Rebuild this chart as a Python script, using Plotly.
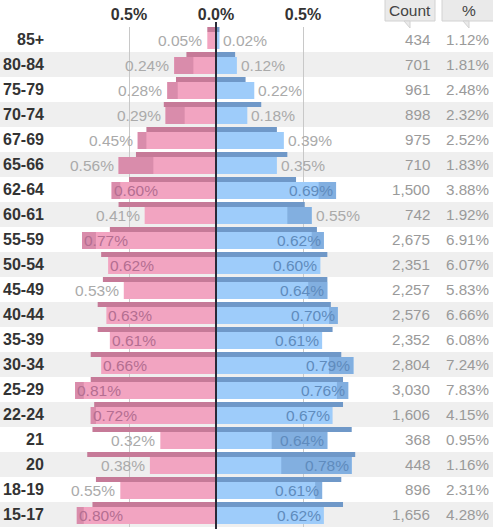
import plotly.graph_objects as go

# ---------------- data ----------------
ages = ["85+", "80-84", "75-79", "70-74", "67-69", "65-66", "62-64", "60-61", "55-59", "50-54",
        "45-49", "40-44", "35-39", "30-34", "25-29", "22-24", "21", "20", "18-19", "15-17"]
female = [0.05, 0.24, 0.28, 0.29, 0.45, 0.56, 0.60, 0.41, 0.77, 0.62,
          0.53, 0.63, 0.61, 0.66, 0.81, 0.72, 0.32, 0.38, 0.55, 0.80]
male = [0.02, 0.12, 0.22, 0.18, 0.39, 0.35, 0.69, 0.55, 0.62, 0.60,
        0.64, 0.70, 0.61, 0.79, 0.76, 0.67, 0.64, 0.78, 0.61, 0.62]
# comparison (thin bars at top of each row)
female_ref = [0.05, 0.17, 0.23, 0.30, 0.40, 0.46, 0.50, 0.56, 0.61, 0.66,
              0.65, 0.68, 0.68, 0.72, 0.72, 0.70, 0.71, 0.74, 0.69, 0.71]
male_ref = [0.02, 0.11, 0.17, 0.26, 0.35, 0.41, 0.46, 0.51, 0.58, 0.64,
            0.64, 0.66, 0.67, 0.72, 0.73, 0.73, 0.78, 0.80, 0.72, 0.73]
# lower end of the darker (uncertain) part of each bar
female_low = [None, 0.13, 0.22, 0.18, 0.40, 0.36, 0.55, None, 0.69, None,
              None, None, None, None, 0.76, 0.69, None, None, None, 0.76]
male_low = [None, None, None, None, None, None, 0.59, 0.41, 0.55, None,
            0.53, 0.65, None, 0.65, 0.695, None, 0.32, 0.375, 0.57, None]
counts = ["434", "701", "961", "898", "975", "710", "1,500", "742", "2,675", "2,351",
          "2,257", "2,576", "2,352", "2,804", "3,030", "1,606", "368", "448", "896", "1,656"]
shares = ["1.12%", "1.81%", "2.48%", "2.32%", "2.52%", "1.83%", "3.88%", "1.92%", "6.91%", "6.07%",
          "5.83%", "6.66%", "6.08%", "7.24%", "7.83%", "4.15%", "0.95%", "1.16%", "2.31%", "4.28%"]
tick_vals = [-0.5, 0.0, 0.5]
tick_text = ["0.5%", "0.0%", "0.5%"]

# ---------------- style ----------------
W, H = 493, 529
FONT = "Liberation Sans, Arial, sans-serif"
PINK, PINK_MID, PINK_DARK = "#F2A4C1", "#D98CAB", "#C67A98"
BLUE, BLUE_MID, BLUE_DARK = "#9ECCFA", "#82AFE0", "#6F98C8"
PINK_TXT, BLUE_TXT, GRAY_TXT = "#B46E91", "#5F8BBD", "#AAAAAA"

idx = list(range(len(ages)))
fig = go.Figure()

MAIN_W, MAIN_OFF = 0.68, -0.30
REF_W, REF_OFF = 0.20, -0.50

# main bars
fig.add_trace(go.Bar(y=idx, x=[-v for v in female], orientation="h", width=MAIN_W, offset=MAIN_OFF,
                     marker=dict(color=PINK, line=dict(width=0)), hoverinfo="skip"))
fig.add_trace(go.Bar(y=idx, x=male, orientation="h", width=MAIN_W, offset=MAIN_OFF,
                     marker=dict(color=BLUE, line=dict(width=0)), hoverinfo="skip"))
# darker segments
fy, fx, fb = [], [], []
for i, (v, lo) in enumerate(zip(female, female_low)):
    if lo is not None:
        fy.append(i); fb.append(-lo); fx.append(-(v - lo))
fig.add_trace(go.Bar(y=fy, x=fx, base=fb, orientation="h", width=MAIN_W, offset=MAIN_OFF,
                     marker=dict(color=PINK_MID, line=dict(width=0)), hoverinfo="skip"))
my, mx, mb = [], [], []
for i, (v, lo) in enumerate(zip(male, male_low)):
    if lo is not None:
        my.append(i); mb.append(lo); mx.append(v - lo)
fig.add_trace(go.Bar(y=my, x=mx, base=mb, orientation="h", width=MAIN_W, offset=MAIN_OFF,
                     marker=dict(color=BLUE_MID, line=dict(width=0)), hoverinfo="skip"))
# thin comparison bars
fig.add_trace(go.Bar(y=idx, x=[-v for v in female_ref], orientation="h", width=REF_W, offset=REF_OFF,
                     marker=dict(color=PINK_DARK, line=dict(width=0)), hoverinfo="skip"))
fig.add_trace(go.Bar(y=idx, x=male_ref, orientation="h", width=REF_W, offset=REF_OFF,
                     marker=dict(color=BLUE_DARK, line=dict(width=0)), hoverinfo="skip"))

shapes = []
# zebra stripes
for i in idx:
    if i % 2 == 1:
        shapes.append(dict(type="rect", xref="paper", yref="y", x0=0, x1=1, y0=i - 0.5, y1=i + 0.5,
                           fillcolor="#EFEFEF", line=dict(width=0), layer="below"))
# zero line above bars
shapes.append(dict(type="line", xref="x", yref="paper", x0=0, x1=0, y0=0, y1=1 - 22 / H,
                   line=dict(color="#2A2A38", width=2), layer="above"))
# header boxes
def box(x0, x1):
    shapes.append(dict(type="rect", xref="paper", yref="paper", x0=x0 / W, x1=x1 / W,
                       y0=1 - 21 / H, y1=1 + 2 / H, fillcolor="#EAEAEA",
                       line=dict(color="#D2D2D2", width=1), layer="above"))
    cx = (x0 + x1) / 2
    shapes.append(dict(type="path", xref="paper", yref="paper",
                       path=f"M {(cx - 6) / W},{1 - 21 / H} L {cx / W},{1 - 28 / H} L {cx / W},{1 - 21 / H} Z",
                       fillcolor="#EAEAEA", line=dict(color="#D2D2D2", width=1), layer="above"))
box(385, 435)
box(442, 496)

ann = []
ann.append(dict(text="Count", xref="paper", yref="paper", x=410 / W, y=1 - 11 / H, showarrow=False,
                font=dict(family=FONT, size=15.5, color="#444"), xanchor="center", yanchor="middle"))
ann.append(dict(text="%", xref="paper", yref="paper", x=469 / W, y=1 - 11 / H, showarrow=False,
                font=dict(family=FONT, size=15.5, color="#444"), xanchor="center", yanchor="middle"))

LBL = 15.5
INSIDE = 0.58
for i in idx:
    ann.append(dict(text=f"<b>{ages[i]}</b>", xref="paper", yref="y", x=46 / W, y=i, showarrow=False,
                    xanchor="right", yanchor="middle", font=dict(family=FONT, size=16, color="#333")))
    ann.append(dict(text=counts[i], xref="paper", yref="y", x=432 / W, y=i, showarrow=False,
                    xanchor="right", yanchor="middle", font=dict(family=FONT, size=15.2, color="#9A9A9A")))
    ann.append(dict(text=shares[i], xref="paper", yref="y", x=491 / W, y=i, showarrow=False,
                    xanchor="right", yanchor="middle", font=dict(family=FONT, size=15.2, color="#9A9A9A")))
    f = female[i]
    if f >= INSIDE:
        ann.append(dict(text=f"{f:.2f}%", xref="x", yref="y", x=-f, y=i, yshift=-1, showarrow=False,
                        xanchor="left", xshift=0, yanchor="middle",
                        font=dict(family=FONT, size=LBL, color=PINK_TXT)))
    else:
        ann.append(dict(text=f"{f:.2f}%", xref="x", yref="y", x=-f, y=i, yshift=-1, showarrow=False,
                        xanchor="right", xshift=-3, yanchor="middle",
                        font=dict(family=FONT, size=LBL, color=GRAY_TXT)))
    m = male[i]
    if m >= INSIDE:
        ann.append(dict(text=f"{m:.2f}%", xref="x", yref="y", x=m, y=i, yshift=-1, showarrow=False,
                        xanchor="right", xshift=-1, yanchor="middle",
                        font=dict(family=FONT, size=LBL, color=BLUE_TXT)))
    else:
        ann.append(dict(text=f"{m:.2f}%", xref="x", yref="y", x=m, y=i, yshift=-1, showarrow=False,
                        xanchor="left", xshift=2, yanchor="middle",
                        font=dict(family=FONT, size=LBL, color=GRAY_TXT)))

PX = 174.0
x_min, x_max = -0.9, 0.95
fig.update_layout(
    width=W, height=H, margin=dict(l=0, r=0, t=0, b=0),
    paper_bgcolor="white", plot_bgcolor="rgba(0,0,0,0)",
    barmode="overlay", showlegend=False,
    shapes=shapes, annotations=ann,
    xaxis=dict(domain=[(216 + x_min * PX) / W, (216 + x_max * PX) / W], range=[x_min, x_max],
               side="top", tickmode="array", tickvals=tick_vals,
               ticktext=[f"<b>{t}</b>" for t in tick_text],
               tickfont=dict(family=FONT, size=16, color="#333"), ticks="",
               ticklabelstandoff=3,
               showgrid=True, gridcolor="#C8C8C8", gridwidth=1, zeroline=False,
               showline=False, fixedrange=True),
    yaxis=dict(domain=[2 / H, 502 / H], range=[19.5, -0.5], showticklabels=False,
               showgrid=False, zeroline=False, showline=False, ticks="", fixedrange=True),
)

fig.write_html("out.html", config={"displayModeBar": False},
               post_script="document.body.style.margin='0px';document.body.style.overflow='hidden';")
